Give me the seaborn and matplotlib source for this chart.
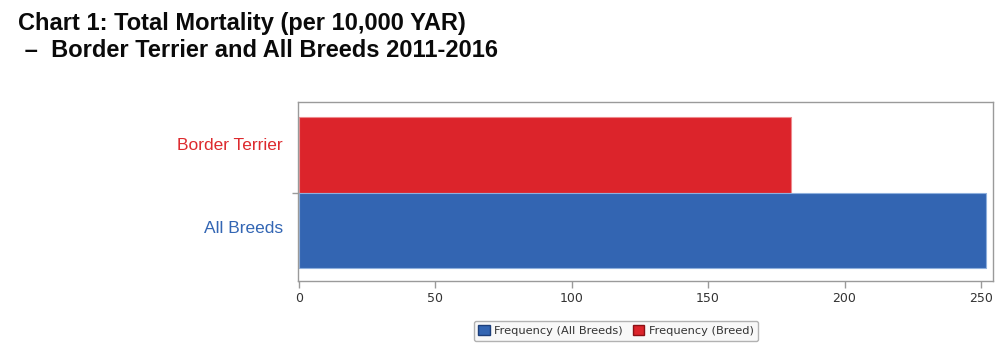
import matplotlib
matplotlib.use("Agg")
import matplotlib.pyplot as plt
from matplotlib.patches import Patch
import seaborn as sns
import pandas as pd

# Chart data
categories = ["Border Terrier", "All Breeds"]
series = ["Frequency (Breed)", "Frequency (All Breeds)"]
values = [180.5, 252.0]
x_ticks = [0, 50, 100, 150, 200, 250]

red = "#DC242B"
blue = "#3365B2"
palette = {series[0]: red, series[1]: blue}

df = pd.DataFrame({"category": categories, "series": series, "value": values})

sns.set_theme(style="white")
plt.rcParams["font.family"] = ["Liberation Sans", "DejaVu Sans"]

fig = plt.figure(figsize=(10.04, 3.46), dpi=100)
ax = fig.add_axes([0.2968, 0.188, 0.6922, 0.5173])

sns.barplot(data=df, y="category", x="value", hue="series", palette=palette,
            dodge=False, width=1.0, orient="h", legend=False, ax=ax,
            saturation=1.0)
# Soft, lighter outline around each bar
for bar, c in zip(ax.patches, ["#EE8A8E", "#8FB0DD"]):
    bar.set_edgecolor(c)
    bar.set_linewidth(0.8)

ax.set_xlim(-0.3, 254.4)
ax.set_ylim(1.67, -0.7)

# Spines: light grey box around the plot area
for s in ax.spines.values():
    s.set_visible(True)
    s.set_color("#9a9a9a")
    s.set_linewidth(1.0)

ax.set_xticks(x_ticks)
ax.set_xticklabels([str(t) for t in x_ticks], family="DejaVu Sans",
                   fontsize=9, color="#333333")
ax.tick_params(axis="x", direction="out", length=5, width=1,
               color="#9a9a9a", pad=3, bottom=True)

# Category labels coloured to match their bars
ax.set_yticks([-0.15, 0.95])
ax.set_yticklabels(categories, fontsize=12.5)
for lbl, c in zip(ax.get_yticklabels(), ["#DD2A2E", "#3366B4"]):
    lbl.set_color(c)
ax.tick_params(axis="y", length=0, pad=11)
ax.set_yticks([0.5], minor=True)
ax.tick_params(axis="y", which="minor", direction="out", length=4,
               width=1, color="#9a9a9a", left=True)

ax.set_xlabel("")
ax.set_ylabel("")
ax.grid(False)

# Legend below the plot area
handles = [Patch(facecolor=blue, edgecolor="#1d3f7a", label=series[1]),
           Patch(facecolor=red, edgecolor="#8a1015", label=series[0])]
leg = fig.legend(handles=handles, loc="center", bbox_to_anchor=(0.6135, 0.044),
                 ncol=2, frameon=True, fancybox=True,
                 prop={"family": "DejaVu Sans", "size": 8.2},
                 handlelength=1.0, handleheight=1.0, handletextpad=0.4,
                 columnspacing=0.9, borderpad=0.4)
leg.get_frame().set_edgecolor("#a0a0a0")
leg.get_frame().set_facecolor("#f7f7f7")
leg.get_frame().set_linewidth(1.0)
for t in leg.get_texts():
    t.set_color("#333333")

# Title
fig.text(0.018, 0.966, "Chart 1: Total Mortality (per 10,000 YAR)\n –  Border Terrier and All Breeds 2011-2016",
         ha="left", va="top", fontsize=17, fontweight="bold", color="#0a0a0a",
         linespacing=1.22)

fig.savefig("out.png", dpi=100, facecolor="white")
